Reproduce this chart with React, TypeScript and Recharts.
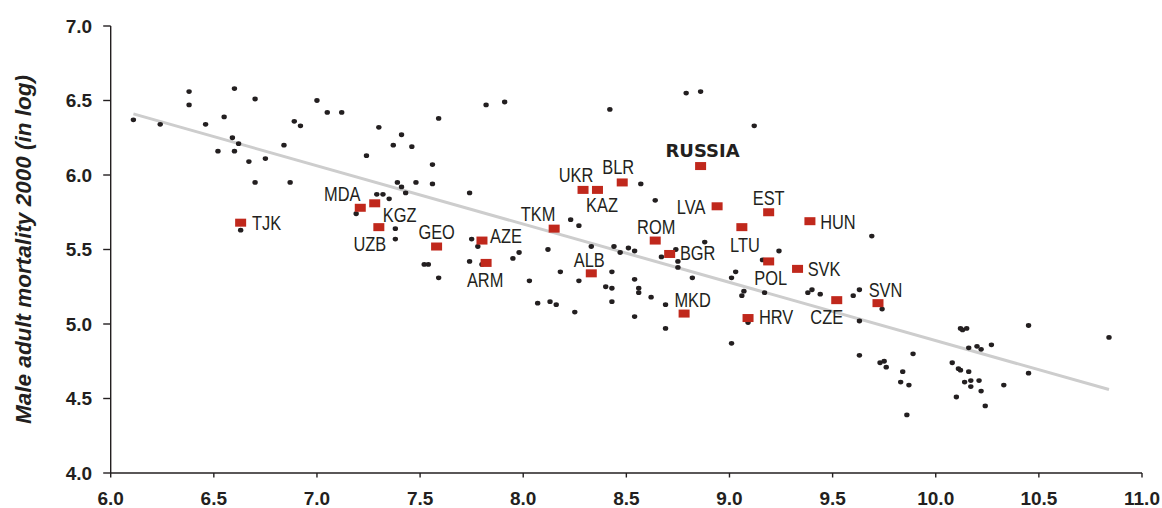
import React from 'react';
import { ScatterChart, Scatter, XAxis, YAxis } from 'recharts';

// ---- data ----
const xTicks = [6.0, 6.5, 7.0, 7.5, 8.0, 8.5, 9.0, 9.5, 10.0, 10.5, 11.0];
const yTicks = [4.0, 4.5, 5.0, 5.5, 6.0, 6.5, 7.0];

const dotX = [
  6.11, 6.24, 6.38, 6.38, 6.46, 6.55, 6.60, 6.70, 6.59, 6.62, 6.52, 6.60, 6.67, 6.75, 6.84, 6.89, 6.92, 7.00, 7.05, 7.12,
  6.70, 6.87, 6.63, 7.19, 7.30, 7.59, 7.82, 7.91, 7.41, 7.37, 7.46, 7.24, 7.56, 7.39, 7.41, 7.48, 7.56, 7.43, 7.74, 7.29,
  7.32, 7.35, 7.38, 7.38, 7.75, 7.78, 7.52, 7.54, 7.59, 7.74, 7.80, 7.95, 7.98, 8.03, 8.12, 8.42, 8.79, 8.86, 8.57, 8.64,
  8.23, 8.27, 8.33, 8.44, 8.47, 8.51, 8.54, 8.88, 8.74, 8.67, 8.75, 8.75, 9.24, 9.16, 9.03, 9.01, 9.07, 9.06, 9.17, 8.82,
  8.18, 8.27, 8.43, 8.54, 8.40, 8.43, 8.56, 8.56, 8.62, 8.69, 8.43, 8.13, 8.07, 8.16, 8.25, 8.54, 8.69, 9.01, 9.09, 9.12,
  9.69, 9.38, 9.40, 9.44, 9.60, 9.63, 9.63, 9.74, 9.63, 9.73, 9.75, 9.76, 9.89, 9.84, 9.83, 9.87, 9.86, 10.12, 10.13, 10.15,
  10.16, 10.20, 10.22, 10.27, 10.45, 10.84, 10.08, 10.11, 10.12, 10.16, 10.14, 10.17, 10.21, 10.17, 10.22, 10.10, 10.24, 10.33, 10.45,
];
const dotY = [
  6.37, 6.34, 6.56, 6.47, 6.34, 6.39, 6.58, 6.51, 6.25, 6.21, 6.16, 6.16, 6.09, 6.11, 6.20, 6.36, 6.33, 6.50, 6.42, 6.42,
  5.95, 5.95, 5.63, 5.74, 6.32, 6.38, 6.47, 6.49, 6.27, 6.20, 6.19, 6.13, 6.07, 5.95, 5.92, 5.95, 5.94, 5.88, 5.88, 5.87,
  5.87, 5.84, 5.64, 5.57, 5.57, 5.52, 5.40, 5.40, 5.31, 5.42, 5.40, 5.44, 5.48, 5.29, 5.50, 6.44, 6.55, 6.56, 5.94, 5.83,
  5.70, 5.66, 5.52, 5.52, 5.48, 5.51, 5.49, 5.55, 5.50, 5.45, 5.42, 5.38, 5.49, 5.43, 5.35, 5.31, 5.22, 5.19, 5.21, 5.31,
  5.35, 5.29, 5.35, 5.30, 5.25, 5.24, 5.24, 5.21, 5.18, 5.13, 5.15, 5.15, 5.14, 5.13, 5.08, 5.05, 4.97, 4.87, 5.01, 6.33,
  5.59, 5.21, 5.23, 5.20, 5.19, 5.23, 5.02, 5.10, 4.79, 4.74, 4.75, 4.71, 4.80, 4.68, 4.61, 4.59, 4.39, 4.97, 4.96, 4.97,
  4.84, 4.85, 4.83, 4.86, 4.99, 4.91, 4.74, 4.70, 4.69, 4.68, 4.61, 4.62, 4.62, 4.58, 4.55, 4.51, 4.45, 4.59, 4.67,
];

const countryCodes = [
  'TJK', 'MDA', 'KGZ', 'UZB', 'GEO', 'AZE', 'ARM', 'TKM', 'UKR', 'KAZ', 'BLR', 'RUSSIA', 'LVA',
  'ROM', 'BGR', 'LTU', 'EST', 'HUN', 'POL', 'SVK', 'ALB', 'MKD', 'HRV', 'CZE', 'SVN',
];
const countryX = [
  6.63, 7.21, 7.28, 7.30, 7.58, 7.80, 7.82, 8.15, 8.29, 8.36, 8.48, 8.86, 8.94,
  8.64, 8.71, 9.06, 9.19, 9.39, 9.19, 9.33, 8.33, 8.78, 9.09, 9.52, 9.72,
];
const countryY = [
  5.68, 5.78, 5.81, 5.65, 5.52, 5.56, 5.41, 5.64, 5.90, 5.90, 5.95, 6.06, 5.79,
  5.56, 5.47, 5.65, 5.75, 5.69, 5.42, 5.37, 5.34, 5.07, 5.04, 5.16, 5.14,
];

const trendX = [6.11, 10.84];
const trendY = [6.41, 4.56];

// ---- layout of labels (offset of the text centre from the marker, px) ----
const labelPlacement: Record<string, [number, number]> = {
  TJK: [26, 0], MDA: [-18, -14], KGZ: [25, 11], UZB: [-9, 16], GEO: [0, -15],
  AZE: [24, -5], ARM: [-1, 16.5], TKM: [-16, -15], UKR: [-7, -15], KAZ: [4.5, 15],
  BLR: [-4, -16], RUSSIA: [2, -16], LVA: [-26, 0], ROM: [1, -14], BGR: [28, -1],
  LTU: [3, 17], EST: [0, -15], HUN: [28, 0], POL: [2, 16], SVK: [26.5, 0],
  ALB: [-2, -14], MKD: [8.5, -14], HRV: [28, -1], CZE: [-10, 16], SVN: [7.5, -14],
};

const dots = dotX.map((x, i) => ({ x, y: dotY[i] }));
const countries = countryCodes.map((code, i) => ({ code, x: countryX[i], y: countryY[i] }));
const trend = trendX.map((x, i) => ({ x, y: trendY[i] }));

const TEXT = '#231f20';
const RED = '#c0281c';
const BASE_FONT = "'Liberation Sans', Arial, Helvetica, sans-serif";

const DotShape = (props: any) => {
  const { cx, cy } = props;
  if (cx == null || cy == null) return <g />;
  return <ellipse cx={cx} cy={cy} rx={2.7} ry={2.4} fill={TEXT} />;
};

const CountryShape = (props: any) => {
  const { cx, cy, payload } = props;
  if (cx == null || cy == null) return <g />;
  const code: string = payload.code;
  const [dx, dy] = labelPlacement[code] || [0, -14];
  const isRussia = code === 'RUSSIA';
  const tx = cx + dx;
  const ty = cy + dy + (isRussia ? 6.6 : 7.4);
  return (
    <g>
      <rect x={cx - 5.5} y={cy - 4} width={11} height={8} fill={RED} />
      {isRussia ? (
        <text
          x={tx}
          y={ty}
          textAnchor="middle"
          fill={TEXT}
          fontFamily="'DejaVu Sans', sans-serif"
          fontWeight={700}
          fontSize={18}
        >
          {code}
        </text>
      ) : (
        <text
          transform={`translate(${tx}, ${ty}) scale(0.8, 1)`}
          x={0}
          y={0}
          textAnchor="middle"
          fill={TEXT}
          fontFamily={BASE_FONT}
          fontWeight={400}
          fontSize={20.5}
        >
          {code}
        </text>
      )}
    </g>
  );
};

const YLabel = (props: any) => {
  const vb = props.viewBox || {};
  const cx = 23;
  const cy = (vb.y || 26) + (vb.height || 447) / 2;
  return (
    <text
      x={cx}
      y={cy}
      transform={`rotate(-90, ${cx}, ${cy})`}
      textAnchor="middle"
      dominantBaseline="central"
      fontFamily={BASE_FONT}
      fontWeight={700}
      fontStyle="italic"
      fontSize={22.5}
      fill={TEXT}
    >
      Male adult mortality 2000 (in log)
    </text>
  );
};

export default function App() {
  return (
    <div style={{ position: 'absolute', left: 0, top: 0, width: 1162, height: 508, background: '#fff' }}>
      <ScatterChart
        width={1162}
        height={508}
        margin={{ top: 26, right: 20, bottom: 0, left: 0 }}
      >
        <XAxis
          type="number"
          dataKey="x"
          domain={[6, 11]}
          ticks={xTicks}
          interval={0}
          allowDataOverflow
          height={35}
          tickSize={4.5}
          tickMargin={14}
          tickFormatter={(v: number) => v.toFixed(1)}
          axisLine={{ stroke: TEXT, strokeWidth: 1.4 }}
          tickLine={{ stroke: TEXT, strokeWidth: 1.4 }}
          tick={{ fill: TEXT, fontSize: 19, fontWeight: 700, fontFamily: BASE_FONT }}
        />
        <YAxis
          type="number"
          dataKey="y"
          domain={[4, 7]}
          ticks={yTicks}
          interval={0}
          allowDataOverflow
          width={110.7}
          tickSize={7.5}
          tickMargin={11}
          tickFormatter={(v: number) => v.toFixed(1)}
          axisLine={{ stroke: TEXT, strokeWidth: 1.4 }}
          tickLine={{ stroke: TEXT, strokeWidth: 1.4 }}
          tick={{ fill: TEXT, fontSize: 19, fontWeight: 700, fontFamily: BASE_FONT }}
          label={<YLabel />}
        />
        <Scatter
          data={trend}
          line={{ stroke: '#cdcdcd', strokeWidth: 3 }}
          shape={() => <g />}
          isAnimationActive={false}
        />
        <Scatter data={dots} shape={DotShape} isAnimationActive={false} />
        <Scatter data={countries} shape={CountryShape} isAnimationActive={false} />
      </ScatterChart>
    </div>
  );
}
